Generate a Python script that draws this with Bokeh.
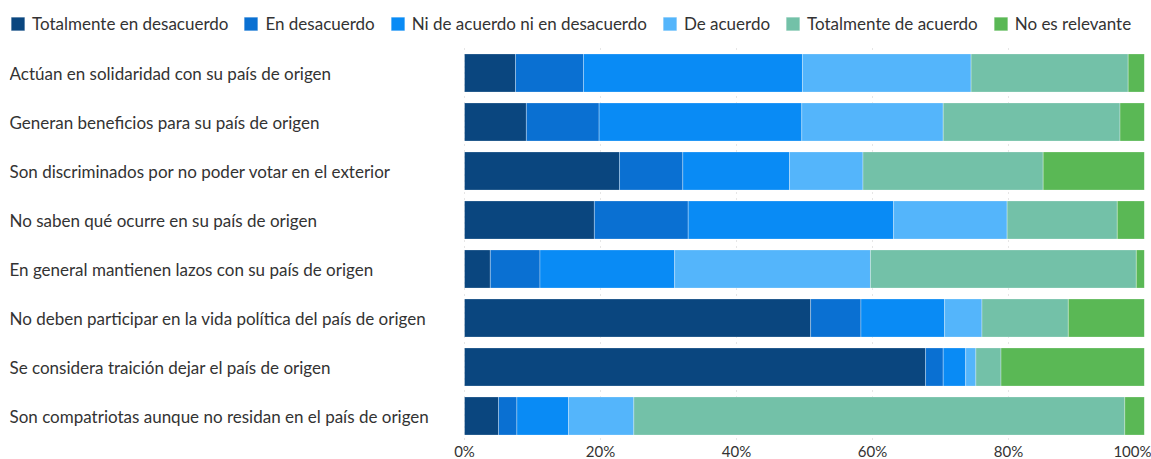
from bokeh.plotting import figure
from bokeh.models import (ColumnDataSource, Range1d, FixedTicker, Legend, LegendItem)
from bokeh.core.properties import value
from bokeh.embed import file_html
from bokeh.resources import INLINE

categories = [
    "Actúan en solidaridad con su país de origen",
    "Generan beneficios para su país de origen",
    "Son discriminados por no poder votar en el exterior",
    "No saben qué ocurre en su país de origen",
    "En general mantienen lazos con su país de origen",
    "No deben participar en la vida política del país de origen",
    "Se considera traición dejar el país de origen",
    "Son compatriotas aunque no residan en el país de origen",
]
series = [
    "Totalmente en desacuerdo",
    "En desacuerdo",
    "Ni de acuerdo ni en desacuerdo",
    "De acuerdo",
    "Totalmente de acuerdo",
    "No es relevante",
]
totalmente_desacuerdo = [7.5, 9.1, 22.8, 19.1, 3.8, 50.9, 67.8, 5.0]
en_desacuerdo = [10.0, 10.7, 9.3, 13.8, 7.3, 7.4, 2.6, 2.7]
ni_ni = [32.2, 29.8, 15.7, 30.2, 19.8, 12.3, 3.3, 7.6]
de_acuerdo = [24.8, 20.8, 10.8, 16.7, 28.8, 5.5, 1.5, 9.6]
totalmente_acuerdo = [23.1, 26.0, 26.5, 16.2, 39.1, 12.7, 3.7, 72.2]
no_relevante = [2.4, 3.7, 14.9, 4.0, 1.2, 11.2, 21.1, 2.9]
tick_values = [0, 20, 40, 60, 80, 100]
tick_labels = ["0%", "20%", "40%", "60%", "80%", "100%"]
colors = ["#0A467F", "#0A70D2", "#098BF5", "#54B5FB", "#73C1A8", "#5AB855"]

# layout (screen pixels)
FONT = "Lato"
TEXT_COLOR = "#333333"
FRAME_LEFT = 9
FRAME_W = 1135
FRAME_H = 440
BAND_PX = 49.0         # height of one category band
ZERO_PX = 464          # screen x of the 0 value
PX_PER_UNIT = 6.8
LEGEND_BOTTOM = 34     # screen y of the legend's bottom edge

n = len(categories)
y_pos = list(range(n))  # 0 = top row

keys = ["s0", "s1", "s2", "s3", "s4", "s5"]
data = {"y": y_pos, "cat": categories}
for k, vals in zip(keys, [totalmente_desacuerdo, en_desacuerdo, ni_ni, de_acuerdo,
                          totalmente_acuerdo, no_relevante]):
    data[k] = vals
source = ColumnDataSource(data)

x_start = -(ZERO_PX - FRAME_LEFT) / PX_PER_UNIT
y_bottom = n - 0.5
y_top = y_bottom - FRAME_H / BAND_PX
p = figure(
    frame_width=FRAME_W, frame_height=FRAME_H,
    y_range=Range1d(y_bottom, y_top),
    x_range=Range1d(x_start, 100),
    output_backend="svg", toolbar_location=None,
    min_border_left=FRAME_LEFT, min_border_right=7, min_border_top=0,
    min_border_bottom=19,
)
p.outline_line_color = None
p.background_fill_color = "white"

renderers = p.hbar_stack(keys, y="y", height=0.78, color=colors, source=source,
                         line_color="white", line_width=0.6, line_alpha=0.5)

p.text(x=value(x_start), y="y", text="cat", source=source, text_align="left",
       text_baseline="middle", text_font=value(FONT), text_font_size="17px",
       text_color=TEXT_COLOR)

p.yaxis.visible = False
p.ygrid.visible = False

xa = p.xaxis[0]
xa.ticker = FixedTicker(ticks=tick_values)
xa.major_label_overrides = dict(zip(tick_values, tick_labels))
xa.axis_line_color = None
xa.major_tick_line_color = None
xa.minor_tick_line_color = None
xa.major_tick_out = 0
xa.major_tick_in = 0
xa.major_label_standoff = 1
xa.major_label_text_font = FONT
xa.major_label_text_font_size = "15px"
xa.major_label_text_color = TEXT_COLOR

grid = p.xgrid[0]
grid.ticker = FixedTicker(ticks=tick_values)
grid.grid_line_color = "#cccccc"
grid.grid_line_dash = "1 5"
if "cross_bounds" in grid.properties():
    grid.cross_bounds = (-0.5, n - 0.5)

# tuple location: (x from frame left, legend bottom edge measured up from frame bottom)
leg = Legend(items=[LegendItem(label=s, renderers=[r]) for s, r in zip(series, renderers)],
             location=(0, FRAME_H - LEGEND_BOTTOM), orientation="horizontal",
             padding=0, margin=0, spacing=14, label_standoff=6,
             glyph_width=17, glyph_height=17, border_line_color=None,
             background_fill_color="white", background_fill_alpha=1,
             label_text_font=FONT, label_text_font_size="17px",
             label_text_color=TEXT_COLOR)
p.add_layout(leg, "center")

open("out.html", "w").write(file_html(p, INLINE))
